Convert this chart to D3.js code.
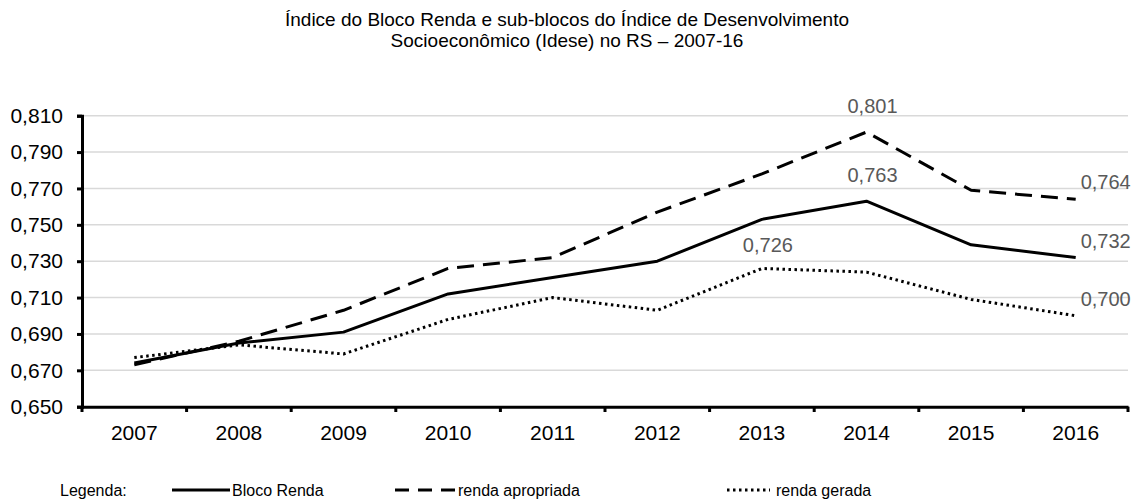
<!DOCTYPE html>
<html><head><meta charset="utf-8">
<script src="https://cdn.jsdelivr.net/npm/d3@7"></script>
<style>
body{margin:0;background:#fff;}
svg text{font-family:"Liberation Sans",Arial,sans-serif;}
</style></head>
<body><svg id="chart" width="1136" height="500"></svg>
<script>
const years = ["2007","2008","2009","2010","2011","2012","2013","2014","2015","2016"];
const blocoRenda = [0.674,0.685,0.691,0.712,0.721,0.730,0.753,0.763,0.739,0.732];
const rendaApropriada = [0.673,0.686,0.703,0.726,0.732,0.757,0.778,0.801,0.769,0.764];
const rendaGerada = [0.677,0.684,0.679,0.698,0.710,0.703,0.726,0.724,0.709,0.700];
const yTicks = [0.65,0.67,0.69,0.71,0.73,0.75,0.77,0.79,0.81];
const titleLines = ["Índice do Bloco Renda e sub-blocos do Índice de Desenvolvimento","Socioeconômico (Idese) no RS – 2007-16"];
const seriesNames = ["Bloco Renda","renda apropriada","renda gerada"];
// labelled points: [series index, year index, placement]
const labelPoints = [[1,7,"above"],[0,7,"above"],[2,6,"aboveLow"],[1,9,"right"],[0,9,"right"],[2,9,"right"]];

const series = [blocoRenda, rendaApropriada, rendaGerada];
const dashes = [null, "17,9", "2.5,3.5"];
const legendDashes = [null, "14,9", "2.5,3.5"];

const svg = d3.select("#chart");
const x = d3.scaleBand().domain(years).range([82,1128]);
const y = d3.scaleLinear().domain([0.65,0.81]).range([406.7,115.7]);
const loc = d3.formatLocale({decimal:",",thousands:".",grouping:[3],currency:["",""]});
const fmt = loc.format(".3f");

// title
svg.append("g").selectAll("text").data(titleLines).join("text")
  .attr("x",567).attr("y",(d,i)=>26+i*21).attr("text-anchor","middle")
  .attr("font-size",19).attr("fill","#000").text(d=>d);

// grid
svg.append("g").selectAll("line").data(yTicks.slice(1)).join("line")
  .attr("x1",82).attr("x2",1128).attr("y1",d=>y(d)).attr("y2",d=>y(d))
  .attr("stroke","#d9d9d9").attr("stroke-width",1.5);

// y axis
const yAxis = svg.append("g").attr("transform","translate(82,0)")
  .call(d3.axisLeft(y).tickValues(yTicks).tickFormat(fmt).tickSize(5).tickPadding(14));
yAxis.select(".domain").attr("stroke","#000").attr("stroke-width",3);
yAxis.selectAll(".tick line").attr("stroke","#000").attr("stroke-width",3);
yAxis.selectAll(".tick text").attr("font-size",21).attr("fill","#000")
  .attr("font-family","Liberation Sans, Arial, sans-serif");

// x axis
const xAxis = svg.append("g").attr("transform","translate(0,406.7)")
  .call(d3.axisBottom(x).tickSize(0).tickPadding(18));
xAxis.select(".domain").attr("stroke","#000").attr("stroke-width",3);
xAxis.selectAll(".tick text").attr("font-size",21).attr("fill","#000")
  .attr("font-family","Liberation Sans, Arial, sans-serif");
// boundary ticks
const bounds = years.map(d=>x(d)).concat([x.range()[1]]);
svg.append("g").selectAll("line").data(bounds).join("line")
  .attr("x1",d=>d).attr("x2",d=>d).attr("y1",406.7).attr("y2",412)
  .attr("stroke","#000").attr("stroke-width",3);

// lines
const line = d3.line().x((d,i)=>x(years[i])+x.bandwidth()/2).y(d=>y(d));
svg.append("g").selectAll("path").data(series).join("path")
  .attr("d",d=>line(d)).attr("fill","none").attr("stroke","#000")
  .attr("stroke-width",3).attr("stroke-linejoin","round")
  .attr("stroke-dasharray",(d,i)=>dashes[i]);

// data labels
svg.append("g").selectAll("text").data(labelPoints).join("text")
  .attr("x",d=>{const cx=x(years[d[1]])+x.bandwidth()/2; return d[2]==="right"?cx+5:cx+6;})
  .attr("y",d=>{const cy=y(series[d[0]][d[1]]); return d[2]==="right"?cy-10:(d[2]==="aboveLow"?cy-16:cy-19);})
  .attr("text-anchor",d=>d[2]==="right"?"start":"middle")
  .attr("font-size",20).attr("fill","#595959")
  .text(d=>fmt(series[d[0]][d[1]]));

// legend
const lg = svg.append("g");
lg.append("text").attr("x",60).attr("y",496).attr("font-size",16).text("Legenda:");
const legendX = [[172,230,232],[395,455,458],[727,770,776]];
seriesNames.forEach((n,i)=>{
  lg.append("line").attr("x1",legendX[i][0]).attr("x2",legendX[i][1]).attr("y1",490).attr("y2",490)
    .attr("stroke","#000").attr("stroke-width",3).attr("stroke-dasharray",legendDashes[i]);
  lg.append("text").attr("x",legendX[i][2]).attr("y",496).attr("font-size",16).text(n);
});
</script></body></html>
